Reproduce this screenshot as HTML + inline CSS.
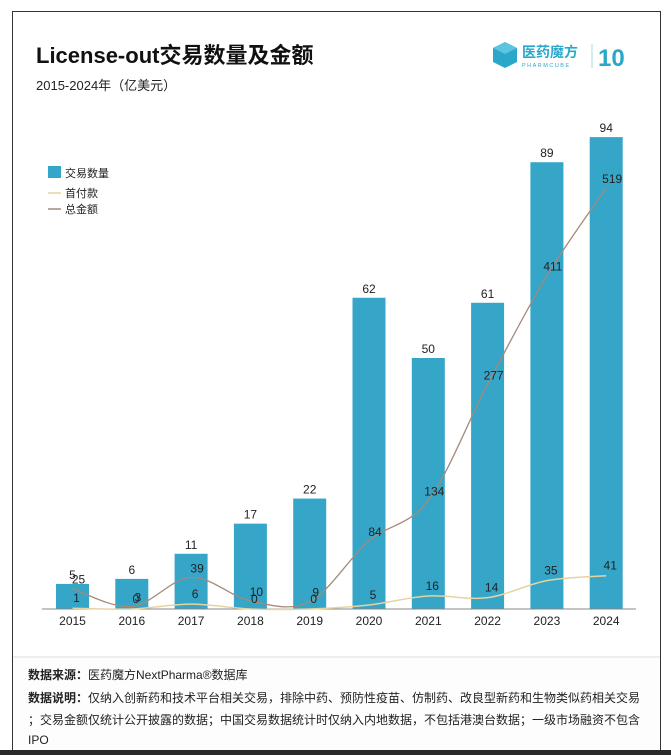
<!DOCTYPE html>
<html><head><meta charset="utf-8">
<style>
body{margin:0;width:671px;height:755px;background:#fff;font-family:"Liberation Sans","Noto Sans CJK SC",sans-serif;position:relative;overflow:hidden}
.frame{position:absolute;left:12px;top:11px;width:649px;height:739px;border:1px solid #333;box-sizing:border-box;background:#fff}
.title{position:absolute;left:36px;top:38px;font-size:22px;font-weight:bold;color:#111}
.sub{position:absolute;left:36px;top:75px;font-size:13px;color:#222}
.foot{position:absolute;left:13px;top:656px;width:647px;height:93px;background:#fdfdfd;border-top:2px solid #eee}
.foot p{margin:0;position:absolute;left:15px;font-size:12px;color:#222;white-space:nowrap}
.bottom{position:absolute;left:0;top:750px;width:671px;height:5px;background:#2a2a2a}
</style></head><body>
<div class="frame"></div>
<div class="title">License-out交易数量及金额</div>
<div class="sub">2015-2024年（亿美元）</div>
<div style="position:absolute;left:492px;top:40px;width:150px;height:32px">
 <svg width="150" height="32" viewBox="0 0 150 32">
  <polygon points="13,2 25,8 25,22 13,28 1,22 1,8" fill="#2aa7c9"/>
  <polygon points="13,2 25,8 13,14 1,8" fill="#5cc4de"/>
  <text x="30" y="17" font-size="14" fill="#2aa7c9" font-weight="bold" font-family="Noto Sans CJK SC,sans-serif">医药魔方</text>
  <text x="30" y="27" font-size="5.5" fill="#2aa7c9" letter-spacing="1.5">PHARMCUBE</text>
  <line x1="100" y1="4" x2="100" y2="28" stroke="#aadbe8"/>
  <text x="106" y="26" font-size="24" fill="#2aa7c9" font-weight="bold">10</text>
 </svg>
</div>
<svg id="chart" width="671" height="650" style="position:absolute;left:0;top:0"></svg>
<div class="foot">
 <p style="top:8px"><b>数据来源：</b>医药魔方NextPharma®数据库</p>
 <p style="top:31px"><b>数据说明：</b>仅纳入创新药和技术平台相关交易，排除中药、预防性疫苗、仿制药、改良型新药和生物类似药相关交易</p>
 <p style="top:53px">；交易金额仅统计公开披露的数据；中国交易数据统计时仅纳入内地数据，不包括港澳台数据；一级市场融资不包含</p>
 <p style="top:75px">IPO</p>
</div>
<div class="bottom"></div>
<script>
const years=["2015","2016","2017","2018","2019","2020","2021","2022","2023","2024"];
const dealCount=[5,6,11,17,22,62,50,61,89,94];
const upfront=[1,0,6,0,0,5,16,14,35,41];
const totalAmt=[25,3,39,10,9,84,134,277,411,519];
const NS="http://www.w3.org/2000/svg";
const svg=document.getElementById('chart');
const base=609;
const xPos=i=>72.5+i*59.3;
const yBar=v=>base-v*5.02;
const yLine=v=>base-v*0.811;
function mk(t,a){const e=document.createElementNS(NS,t);for(const k in a)e.setAttribute(k,a[k]);svg.appendChild(e);return e;}
function txt(x,y,s,size,anchor){const e=mk('text',{x:x,y:y,'font-size':size||12,'text-anchor':anchor||'middle',fill:'#222'});e.textContent=s;return e;}
years.forEach((y,i)=>{
 const b=mk('rect',{x:xPos(i)-16.5,y:yBar(dealCount[i]),width:33,height:base-yBar(dealCount[i]),fill:'#35a5c8'});
 
 
 const l=txt(xPos(i),yBar(dealCount[i])-5,String(dealCount[i]),12);
 
 
 const t=txt(xPos(i),625,y,12);
 
 
});
const ax=mk('line',{x1:42,x2:636,y1:base,y2:base,stroke:'#888'});


function smooth(vals,yf){
 const p=vals.map((v,i)=>[xPos(i),yf(v)]);let d='M'+p[0][0]+','+p[0][1];
 for(let i=0;i<p.length-1;i++){const p0=p[i-1]||p[i],p1=p[i],p2=p[i+1],p3=p[i+2]||p2;
  const c1=[p1[0]+(p2[0]-p0[0])/6,p1[1]+(p2[1]-p0[1])/6],c2=[p2[0]-(p3[0]-p1[0])/6,p2[1]-(p3[1]-p1[1])/6];
  d+=' C'+c1+' '+c2+' '+p2;}
 return d;}
const up=mk('path',{d:smooth(upfront,yLine),fill:'none',stroke:'#e6d3a2','stroke-width':1.5});


const tl=mk('path',{d:smooth(totalAmt,yLine),fill:'none',stroke:'#a48a7a','stroke-width':1.3});


years.forEach((y,i)=>{
 const a=txt(xPos(i)+6,yLine(totalAmt[i])-5,String(totalAmt[i]),12);
 
 
 const b=txt(xPos(i)+4,yLine(upfront[i])-6,String(upfront[i]),12);
 
 
});
const lg1=mk('rect',{x:48,y:166,width:13,height:12,fill:'#35a5c8'});


const lt1=txt(65,177,'交易数量',11,'start');


const lg2=mk('line',{x1:48,x2:61,y1:193,y2:193,stroke:'#e6d3a2','stroke-width':1.5});


const lt2=txt(65,197,'首付款',11,'start');


const lg3=mk('line',{x1:48,x2:61,y1:209,y2:209,stroke:'#a48a7a','stroke-width':1.5});


const lt3=txt(65,213,'总金额',11,'start');


</script>
</body></html>
